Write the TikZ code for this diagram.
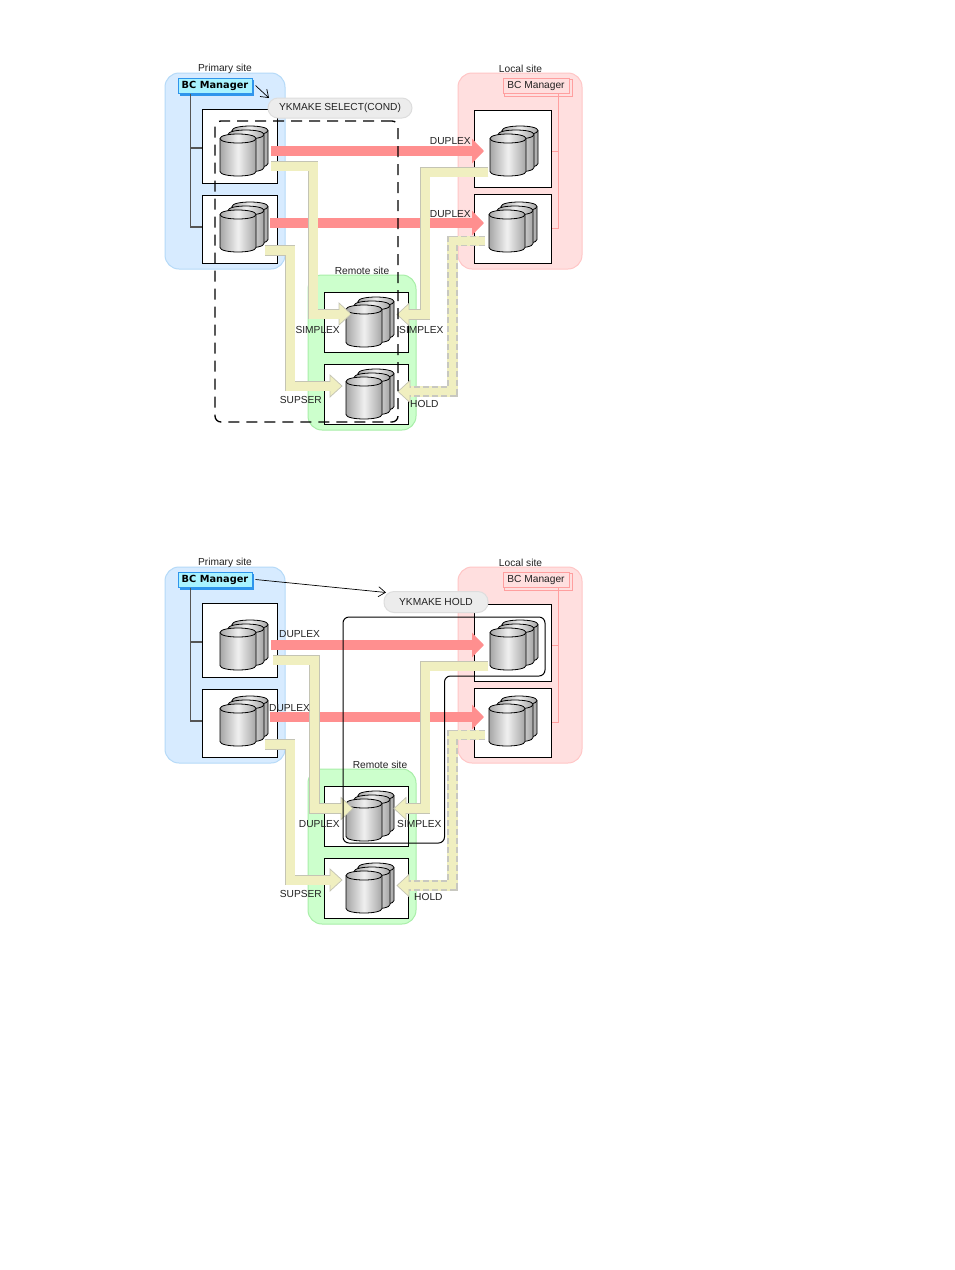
\documentclass[tikz,border=0pt]{standalone}
\usepackage{fontspec}
\setmainfont{Liberation Sans}
\newfontfamily\bcfont{DejaVu Sans}
\usetikzlibrary{arrows.meta,calc}
\definecolor{txt}{HTML}{222222}
\definecolor{bluefill}{HTML}{D7EBFF}
\definecolor{blueedge}{HTML}{B5DAF8}
\definecolor{redfill}{HTML}{FFDFDF}
\definecolor{rededge}{HTML}{FFC6C6}
\definecolor{greenfill}{HTML}{CCFFCC}
\definecolor{greenedge}{HTML}{A8EEA8}
\definecolor{pinkarrow}{HTML}{FF8F8F}
\definecolor{ylw}{HTML}{F0EFC0}
\definecolor{yedgec}{HTML}{C4C4B4}
\definecolor{ydash}{HTML}{C8C8C0}
\definecolor{pillfill}{HTML}{ECECEC}
\definecolor{pilledge}{HTML}{DDDDDD}
\definecolor{bccyan}{HTML}{A9F3FF}
\definecolor{bcblue}{HTML}{2F95EC}
\definecolor{linegray}{HTML}{555555}
\definecolor{linepink}{HTML}{FF9F9F}
\definecolor{cylside}{HTML}{A6A6A6}
\definecolor{cyllight}{HTML}{F0F0F0}
\newcommand{\yw}{9pt}
\tikzset{
 site/.style={rounded corners=14pt,line width=1pt,inner sep=0pt},
 bluesite/.style={site,draw=blueedge,fill=bluefill},
 redsite/.style={site,draw=rededge,fill=redfill},
 greensite/.style={site,draw=greenedge,fill=greenfill},
 diskbox/.style={draw=black,fill=white,line width=1pt,inner sep=0pt},
 lbl/.style={text=txt,inner sep=0pt,yshift=-.5pt,font=\fontsize{10.2}{12}\selectfont},
 pill/.style={draw=pilledge,fill=pillfill,rounded corners=10pt,inner sep=0pt,line width=1pt,text=txt,font=\fontsize{10.2}{12}\selectfont},
 bluemgr/.style={draw=bcblue,fill=bccyan,line width=1pt,inner sep=0pt,minimum width=74pt,minimum height=15pt,text=black,font=\bcfont\bfseries\fontsize{9.8}{11}\selectfont},
 redmgr/.style={draw=linepink,fill=redfill,line width=1pt,inner sep=0pt,minimum width=66pt,minimum height=15pt,text=txt,font=\fontsize{10.2}{12}\selectfont},
 graylink/.style={draw=linegray,line width=1.4pt},
 pinklink/.style={draw=linepink,line width=1pt},
 repl/.style={draw=pinkarrow,line width=10pt,-{Triangle[length=12pt,width=24pt,fill=pinkarrow]}},
 yedge/.style={draw=yedgec,line width=10.2pt},
 yinner/.style={draw=ylw,line width=\yw},
 yhead/.style={draw=yedgec,fill=ylw,line width=.7pt,line join=miter},
 cylbody/.style={draw=black,line width=.8pt,left color=cylside,right color=cylside,middle color=cyllight},
 cmdarrow/.style={draw=black,line width=.7pt,-{Straight Barb[length=7pt,width=10pt]}},
}
% one cylinder; local origin = left end of the top ellipse's axis
\newcommand{\onecyl}[3]{%
 \begin{scope}[shift={(#1,#2)}]
  \path[cylbody] (0,0) -- (0,#3) .. controls (0,{#3+6}) and (36,{#3+6}) .. (36,#3) -- (36,0) .. controls (36,-6) and (0,-6) .. (0,0) -- cycle;
  \draw[line width=.8pt] (0,0) .. controls (0,6) and (36,6) .. (36,0);
 \end{scope}}
\newcommand{\cylstack}[2]{%
 \onecyl{#1+12}{#2-8}{33}\onecyl{#1+8}{#2-4}{33}\onecyl{#1}{#2}{33}}
% elbow arrow: [outer opts]{name}{start x}{start y}{corner x}{end y}{tip x}
\newcommand{\yarrow}[7][]{%
 \pgfmathsetmacro\ydir{(#7>#5)?1:-1}%
 \coordinate (#2s) at (#3,#4);
 \coordinate (#2c) at (#5,#6);
 \coordinate (#2t) at (#7,#6);
 \coordinate (#2b) at ({#7-\ydir*12},#6);
 \coordinate (#2i) at ({#7-\ydir*10},#6);
 \draw[yinner,line width=10.2pt] (#2s) -| (#2c) -- (#2b);
 \draw[yedge,#1] (#2s) -| (#2c) -- (#2b);
 \draw[yhead] (#2t) -- ($(#2b)+(0,-11)$) -- ($(#2b)+(0,11)$) -- cycle;
 \draw[yinner] (#2s) -| (#2c) -- (#2i);
}
% everything the two panels share
\newcommand{\panelbase}[1]{%
 \node[bluesite,minimum width=120pt,minimum height=196pt] (#1blue) at (225,171) {};
 \node[redsite,minimum width=124pt,minimum height=196pt] (#1red) at (520,171) {};
 \node[greensite,minimum width=108pt,minimum height=155pt] (#1green) at (362,352.5) {};
 \node[lbl] (#1lp) at (225,68.5) {Primary site};
 \node[lbl] (#1ll) at (520.5,68.5) {Local site};
 \node[diskbox,minimum width=75pt,minimum height=74pt] (#1p1) at (239.5,146) {};
 \node[diskbox,minimum width=75pt,minimum height=68pt] (#1p2) at (239.5,229) {};
 \node[diskbox,minimum width=77pt,minimum height=77pt] (#1l1) at (512.5,148.5) {};
 \node[diskbox,minimum width=77pt,minimum height=69pt] (#1l2) at (512.5,228.5) {};
 \node[diskbox,minimum width=84pt,minimum height=60pt] (#1r1) at (366,322) {};
 \node[diskbox,minimum width=84pt,minimum height=60pt] (#1r2) at (366,394) {};
 \fill[bcblue] (179.5,79.5) rectangle (254,95.5);
 \node[bluemgr] (#1bm) at (215,85.5) {BC Manager};
 \draw[linepink,line width=.8pt,fill=redfill] (504,79.5) rectangle (572,96);
 \node[redmgr] (#1rm) at (536,85.5) {BC Manager};
 \draw[graylink] ($(#1bm.south west)+(13,0)$) coordinate (#1bs) |- ($(#1p1.west)+(0,2)$);
 \draw[graylink] (#1bs) |- ($(#1p2.west)+(0,-2)$);
 \draw[pinklink] ($(#1rm.south east)+(-11,0)$) coordinate (#1rs) |- ($(#1l1.east)+(0,3)$);
 \draw[pinklink] (#1rs) |- (#1l2.east);
 \cylstack{220}{138.5}
 \cylstack{220}{214.5}
 \cylstack{490}{138.5}
 \cylstack{489}{214.5}
 \cylstack{346}{309.5}
 \cylstack{346}{381.5}
 \coordinate (#1a1) at (271,151);
 \coordinate (#1b1) at (484,151);
 \coordinate (#1a2) at (270,223);
 \coordinate (#1b2) at (484,223);
 \draw[repl] (#1a1) -- (#1b1);
 \draw[repl] (#1a2) -- (#1b2);
}
\begin{document}
\begin{tikzpicture}[x=1pt,y=-1pt]
\useasboundingbox (0,0) rectangle (954,1270);
\fill[white] (0,0) rectangle (954,1270);
% ---------- upper panel
\panelbase{u}
\yarrow{uy}{271}{166}{313}{314}{351}
\yarrow{uz}{265}{250.5}{290}{386}{342}
\yarrow{uw}{488}{172}{425}{314.5}{397}
{\renewcommand{\yw}{7.6pt}
\yarrow[dash pattern=on 6pt off 3pt,draw=ydash]{uv}{485}{241}{452.5}{391.5}{398}}
\node[lbl] at (362,270) {Remote site};
\node[lbl,anchor=east] at (471,140.5) {DUPLEX};
\node[lbl,anchor=east] at (471,213.5) {DUPLEX};
\node[lbl,anchor=east] at (340,329) {SIMPLEX};
\node[lbl,anchor=west] at (399,329) {SIMPLEX};
\node[lbl,anchor=east] at (322,399) {SUPSER};
\node[lbl,anchor=west] at (410,403) {HOLD};
\node[draw=black,line width=1.3pt,dash pattern=on 11pt off 7pt,rounded corners=6pt,inner sep=0pt,minimum width=183pt,minimum height=301pt] (sel) at (306.5,271.5) {};
\node[pill,minimum width=144pt,minimum height=20pt] (selcmd) at (340,108) {\raisebox{-.5pt}{YKMAKE SELECT(COND)}};
\coordinate (seltip) at (269,98);
\draw[cmdarrow] (ubm.east) ++(3,0) -- (seltip);
% ---------- lower panel
\begin{scope}[shift={(0,494)}]
\panelbase{d}
\yarrow{dy}{273}{166}{314.5}{314.5}{353}
\yarrow{dz}{265}{250.5}{290}{386}{342}
\yarrow{dw}{488}{172}{425}{314.5}{394}
{\renewcommand{\yw}{7.6pt}
\yarrow[dash pattern=on 6pt off 3pt,draw=ydash]{dv}{485}{241}{452.5}{391.5}{397}}
\node[lbl] at (380,270) {Remote site};
\node[lbl,anchor=west] at (279,140) {DUPLEX};
\node[lbl,anchor=west] at (269,213.5) {DUPLEX};
\node[lbl,anchor=east] at (340,329.5) {DUPLEX};
\node[lbl,anchor=west] at (397,329.5) {SIMPLEX};
\node[lbl,anchor=east] at (322,399.5) {SUPSER};
\node[lbl,anchor=west] at (414,402.5) {HOLD};
\draw[black,line width=1pt,rounded corners=6pt] (343,123) -- (545,123) -- (545,182) -- (444.5,182) -- (444.5,349) -- (343,349) -- cycle;
\node[pill,minimum width=104pt,minimum height=21pt] (holdcmd) at (436,108) {\raisebox{-.5pt}{YKMAKE HOLD}};
\coordinate (holdtip) at (386,98.5);
\draw[cmdarrow] (dbm.east) ++(3,0) -- (holdtip);
\end{scope}
\end{tikzpicture}
\end{document}
